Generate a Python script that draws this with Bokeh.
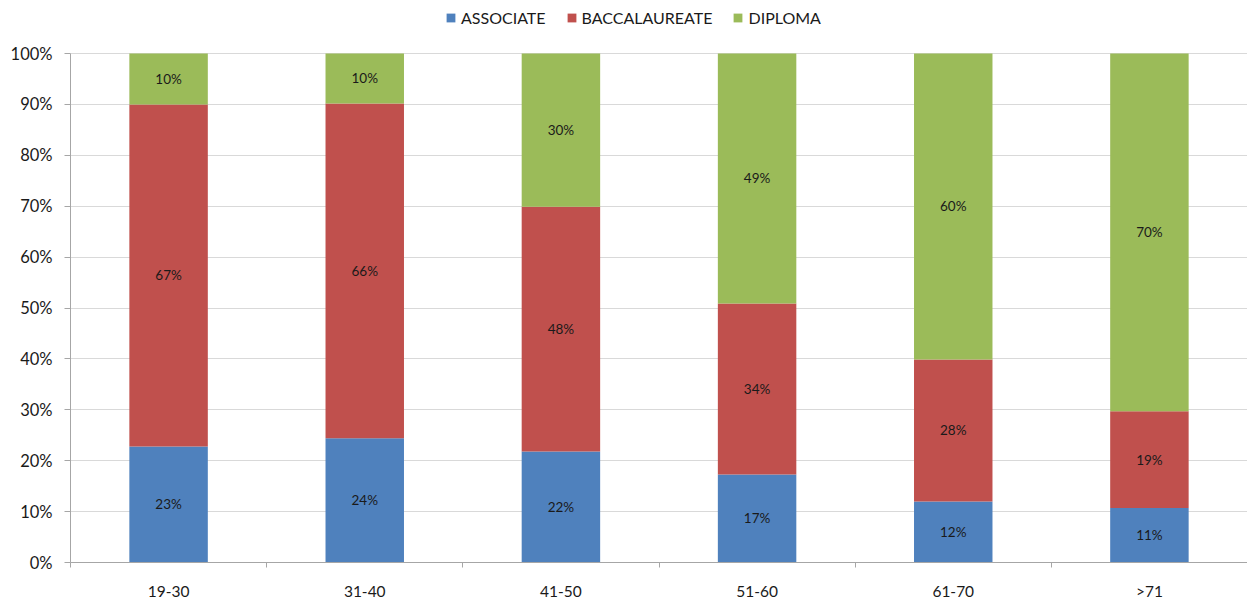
from bokeh.plotting import figure
from bokeh.models import ColumnDataSource, FixedTicker, Legend, LegendItem, Range1d, NumeralTickFormatter
from bokeh.core.properties import value
from bokeh.embed import file_html
from bokeh.resources import INLINE

categories = ["19-30", "31-40", "41-50", "51-60", "61-70", ">71"]
associate = [22.8, 24.4, 21.8, 17.3, 12.0, 10.7]
baccalaureate = [67.2, 65.8, 48.1, 33.6, 27.9, 19.0]
diploma = [10.0, 9.8, 30.1, 49.1, 60.1, 70.3]
series_names = ["ASSOCIATE", "BACCALAUREATE", "DIPLOMA"]
colors = ["#4F81BD", "#C0504D", "#9BBB59"]
y_ticks = [0, 10, 20, 30, 40, 50, 60, 70, 80, 90, 100]

FONT = "Lato"
W, H = 1247, 605
BL, BR, BT, BB = 70, 0, 0, 43
frame_h = H - BT - BB          # 562 px
top_gap = 53                   # px between figure top and 100% line
y_max = 100 * frame_h / (frame_h - top_gap)

p = figure(width=W, height=H, output_backend="svg", toolbar_location=None,
           x_range=Range1d(0, len(categories)), y_range=Range1d(0, y_max))
p.min_border_left = BL
p.min_border_right = BR
p.min_border_bottom = BB
p.min_border_top = BT
p.outline_line_color = None
p.background_fill_color = "white"

xs = [i + 0.5 for i in range(len(categories))]
series = [associate, baccalaureate, diploma]
bottom = [0.0] * len(categories)
renderers = []
label_x, label_y, label_t = [], [], []
for vals, col in zip(series, colors):
    top = [b + v for b, v in zip(bottom, vals)]
    src = ColumnDataSource(dict(x=xs, bottom=bottom, top=top))
    r = p.vbar(x="x", width=0.4, bottom="bottom", top="top", source=src,
               fill_color=col, line_color=None)
    renderers.append(r)
    for x, b, v in zip(xs, bottom, vals):
        label_x.append(x)
        label_y.append(b + v / 2)
        label_t.append(f"{round(v)}%")
    bottom = top

p.text(x=label_x, y=label_y, text=label_t, text_align="center", text_baseline="middle",
       text_font=value(FONT), text_font_size="13.5px", text_color="#1a1a1a")

# axes
p.xgrid.grid_line_color = None
p.ygrid.grid_line_color = "#d9d9d9"
p.ygrid.grid_line_width = 1
p.yaxis.ticker = FixedTicker(ticks=y_ticks)
p.yaxis.bounds = (0, 100)
p.yaxis.formatter = NumeralTickFormatter(format="0")
p.yaxis.major_label_overrides = {t: f"{t}%" for t in y_ticks}
p.yaxis.axis_line_color = "#a6a6a6"
p.yaxis.major_tick_line_color = "#a6a6a6"
p.yaxis.major_tick_in = 0
p.yaxis.major_tick_out = 6
p.yaxis.minor_tick_line_color = None
p.yaxis.major_label_text_font = FONT
p.yaxis.major_label_text_font_size = "16.5px"
p.yaxis.major_label_text_color = "#1a1a1a"
p.yaxis.major_label_standoff = 12

p.xaxis.ticker = FixedTicker(ticks=xs, minor_ticks=list(range(len(categories) + 1)))
p.xaxis.major_label_overrides = {x: c for x, c in zip(xs, categories)}
p.xaxis.axis_line_color = "#a6a6a6"
p.xaxis.major_tick_line_color = None
p.xaxis.major_tick_in = 0
p.xaxis.major_tick_out = 0
p.xaxis.minor_tick_line_color = "#a6a6a6"
p.xaxis.minor_tick_in = 0
p.xaxis.minor_tick_out = 5
p.xaxis.major_label_text_font = FONT
p.xaxis.major_label_text_font_size = "15.5px"
p.xaxis.major_label_text_color = "#1a1a1a"
p.xaxis.major_label_standoff = 14

legend = Legend(items=[LegendItem(label=n, renderers=[r]) for n, r in zip(series_names, renderers)],
                orientation="horizontal", location=(375, frame_h - 27))
legend.label_text_font = FONT
legend.label_text_font_size = "16px"
legend.label_text_color = "#1a1a1a"
legend.glyph_width = 11
legend.glyph_height = 11
legend.label_standoff = 5
legend.spacing = 20
legend.border_line_color = None
legend.background_fill_alpha = 0
legend.padding = 2
legend.margin = 0
legend.label_height = 16
p.add_layout(legend, "center")

open("out.html", "w").write(file_html(p, INLINE))
